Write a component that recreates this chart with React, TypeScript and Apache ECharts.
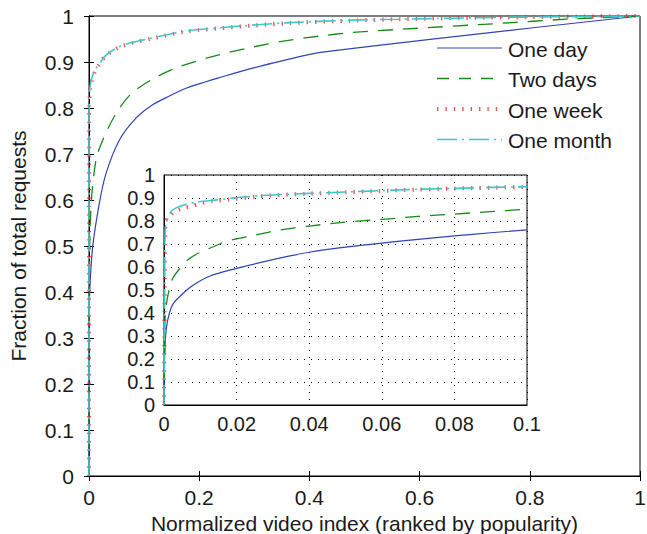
import React, { useEffect, useRef } from "react";
import * as echarts from "echarts";

// Cumulative fraction of requests vs. normalized video index, [x, y] pairs (full range).
const oneDay: [number, number][] = [
  [0, 0], [0.0005, 0.36], [0.002, 0.42], [0.0067, 0.498], [0.0188, 0.593], [0.0309, 0.658],
  [0.055, 0.73], [0.0853, 0.778], [0.1156, 0.807], [0.146, 0.826], [0.176, 0.843], [0.212, 0.857],
  [0.234, 0.865], [0.295, 0.886], [0.356, 0.904], [0.42, 0.921], [1, 1],
];

const twoDays: [number, number][] = [
  [0, 0], [0.0003, 0.4], [0.0036, 0.585], [0.0127, 0.687], [0.0248, 0.73], [0.049, 0.788],
  [0.0775, 0.832], [0.1216, 0.867], [0.167, 0.891], [0.234, 0.915], [0.295, 0.932], [0.356, 0.946],
  [0.416, 0.956], [0.477, 0.964], [0.564, 0.971], [0.746, 0.984], [0.867, 0.993], [1, 1],
];

const oneWeek: [number, number][] = [
  [0, 0], [0.0003, 0.8], [0.002, 0.84], [0.005, 0.858], [0.011, 0.88], [0.02, 0.897],
  [0.03, 0.913], [0.053, 0.931], [0.08, 0.942], [0.114, 0.951], [0.174, 0.966], [0.234, 0.973],
  [0.295, 0.979], [0.356, 0.984], [0.477, 0.99], [0.564, 0.993], [0.75, 0.997], [1, 1],
];

const oneMonth: [number, number][] = [
  [0, 0], [0.0003, 0.817], [0.0018, 0.846], [0.005, 0.865], [0.011, 0.883], [0.02, 0.898],
  [0.03, 0.914], [0.053, 0.932], [0.08, 0.943], [0.114, 0.952], [0.174, 0.967], [0.234, 0.974],
  [0.295, 0.98], [0.356, 0.985], [0.477, 0.991], [0.564, 0.993], [0.75, 0.997], [1, 1],
];

// Finer sampling of the head of each curve, shown in the inset (x from 0 to 0.1).
const oneDayHead: [number, number][] = [
  [0, 0], [0.0001, 0.15], [0.0003, 0.27], [0.0007, 0.34], [0.0015, 0.4], [0.0026, 0.442],
  [0.0053, 0.486], [0.0081, 0.522], [0.0127, 0.561], [0.02, 0.594], [0.0264, 0.619],
  [0.0347, 0.648], [0.04, 0.664], [0.05, 0.686], [0.06, 0.704], [0.07, 0.72], [0.08, 0.735],
  [0.09, 0.749], [0.1, 0.761],
];

const twoDaysHead: [number, number][] = [
  [0, 0], [0.0002, 0.25], [0.0003, 0.384], [0.0007, 0.442], [0.0015, 0.507], [0.0024, 0.551],
  [0.0044, 0.594], [0.0067, 0.633], [0.0097, 0.662], [0.0136, 0.688], [0.0168, 0.71],
  [0.02, 0.722], [0.0232, 0.732], [0.0287, 0.751], [0.032, 0.761], [0.04, 0.778], [0.05, 0.795],
  [0.06, 0.807], [0.07, 0.82], [0.08, 0.83], [0.09, 0.841], [0.1, 0.851],
];

const oneWeekHead: [number, number][] = [
  [0, 0], [0.0002, 0.5], [0.0004, 0.8], [0.0012, 0.81], [0.0025, 0.835], [0.0049, 0.855],
  [0.0072, 0.863], [0.0099, 0.876], [0.0131, 0.886], [0.0182, 0.894], [0.0255, 0.906],
  [0.0306, 0.912], [0.04, 0.919], [0.05, 0.925], [0.06, 0.931], [0.07, 0.937], [0.08, 0.941],
  [0.09, 0.945], [0.1, 0.948],
];

const oneMonthHead: [number, number][] = [
  [0, 0], [0.0002, 0.5], [0.0003, 0.76], [0.0017, 0.836], [0.0035, 0.858], [0.0062, 0.873],
  [0.009, 0.882], [0.0147, 0.892], [0.0209, 0.903], [0.0283, 0.912], [0.04, 0.92], [0.05, 0.926],
  [0.06, 0.932], [0.07, 0.938], [0.08, 0.942], [0.09, 0.946], [0.1, 0.949],
];

const seriesNames = ["One day", "Two days", "One week", "One month"];
const fullData = [oneDay, twoDays, oneWeek, oneMonth];
const headData = [oneDayHead, twoDaysHead, oneWeekHead, oneMonthHead];

const mainXRange = { min: 0, max: 1, interval: 0.2 };
const insetXRange = { min: 0, max: 0.1, interval: 0.02 };
const yRange = { min: 0, max: 1, interval: 0.1 };

const xTitle = "Normalized video index (ranked by popularity)";
const yTitle = "Fraction of total requests";

const lineStyles: any[] = [
  { color: "#2f44b0", width: 1.2, type: "solid" },
  { color: "#17891a", width: 1.3, type: [15, 10] },
  { color: "#ee2a2a", width: 4, type: [1.4, 7], opacity: 0.8 },
  { color: "#3cc8c8", width: 1.6, type: [20, 5, 2, 5] },
];
const legendDash: any[] = ["solid", [12, 10], [1.4, 7], [20, 5, 2, 5]];

const FONT = "'Liberation Sans', Arial, Helvetica, sans-serif";
const INK = "#1a1a1a";

const fmt = (v: number) => String(+v.toFixed(3));

// legend block placement
const LEGEND_X = 437;
const LEGEND_Y = 48;
const LEGEND_ROW = 30.5;
const LEGEND_LINE = 65;

export default function App() {
  const ref = useRef<HTMLDivElement>(null);

  useEffect(() => {
    if (!ref.current) return;
    const chart = echarts.init(ref.current, undefined, { renderer: "svg" });

    const frameLine = { show: true, lineStyle: { color: "#000", width: 1 } };
    const innerTick = { show: true, inside: true, length: 5, lineStyle: { color: "#000", width: 1 } };

    const series: any[] = [];
    fullData.forEach((d, i) => {
      series.push({
        name: seriesNames[i], type: "line", xAxisIndex: 0, yAxisIndex: 0,
        data: d, symbol: "none", lineStyle: lineStyles[i], z: 3, smooth: 0.3,
      });
    });
    headData.forEach((d, i) => {
      series.push({
        name: seriesNames[i], type: "line", xAxisIndex: 2, yAxisIndex: 2,
        data: d, symbol: "none", clip: true, lineStyle: lineStyles[i], z: 6, smooth: 0.3,
      });
    });

    const legendItems = seriesNames.map((n, i) => {
      const y = LEGEND_Y + i * LEGEND_ROW;
      return {
        type: "group",
        children: [
          {
            type: "line",
            shape: { x1: LEGEND_X, y1: y, x2: LEGEND_X + LEGEND_LINE, y2: y },
            style: {
              stroke: lineStyles[i].color,
              lineWidth: lineStyles[i].width,
              lineDash: legendDash[i] === "solid" ? null : legendDash[i],
              opacity: lineStyles[i].opacity ?? 1,
            },
          },
          {
            type: "text",
            x: LEGEND_X + LEGEND_LINE + 6,
            y: y + 1,
            style: {
              text: n, fill: INK, fontSize: 21, fontFamily: FONT,
              verticalAlign: "middle", align: "left",
            },
          },
        ],
      };
    });

    chart.setOption({
      animation: false,
      backgroundColor: "#fff",
      textStyle: { fontFamily: FONT },
      grid: [
        {
          left: 89, top: 16, right: 7, bottom: 58,
          show: true, borderColor: "#000", borderWidth: 1, backgroundColor: "#fff",
          outerBoundsMode: "none",
        },
        {
          left: 164, top: 175, right: 120, bottom: 129,
          show: true, borderColor: "#000", borderWidth: 1, backgroundColor: "#fff",
          outerBoundsMode: "none", z: 5,
        },
      ],
      graphic: legendItems,
      xAxis: [
        {
          gridIndex: 0, type: "value", position: "bottom", ...mainXRange,
          axisLine: frameLine, axisTick: innerTick, splitLine: { show: false },
          axisLabel: { fontSize: 21, color: INK, margin: 11, formatter: fmt },
          name: xTitle, nameLocation: "middle", nameGap: 34,
          nameTextStyle: { fontSize: 21, color: INK, fontFamily: FONT },
        },
        {
          gridIndex: 0, type: "value", position: "top", ...mainXRange,
          axisLine: frameLine, axisTick: innerTick, splitLine: { show: false },
          axisLabel: { show: false },
        },
        {
          gridIndex: 1, type: "value", position: "bottom", ...insetXRange, z: 6,
          axisLine: frameLine, axisTick: { show: false },
          axisLabel: { fontSize: 20, color: INK, margin: 9, formatter: fmt },
          splitLine: { show: true, lineStyle: { color: "#000", width: 1, type: [1, 6] } },
        },
      ],
      yAxis: [
        {
          gridIndex: 0, type: "value", position: "left", ...yRange,
          axisLine: frameLine, axisTick: innerTick, splitLine: { show: false },
          axisLabel: { fontSize: 21, color: INK, margin: 15, formatter: fmt },
          name: yTitle, nameLocation: "middle", nameGap: 60, nameRotate: 90,
          nameTextStyle: { fontSize: 21, color: INK, fontFamily: FONT },
        },
        {
          gridIndex: 0, type: "value", position: "right", ...yRange,
          axisLine: frameLine, axisTick: innerTick, splitLine: { show: false },
          axisLabel: { show: false },
        },
        {
          gridIndex: 1, type: "value", position: "left", ...yRange, z: 6,
          axisLine: frameLine, axisTick: { show: false },
          axisLabel: { fontSize: 20, color: INK, margin: 9, formatter: fmt },
          splitLine: { show: true, lineStyle: { color: "#000", width: 1, type: [1, 6] } },
        },
      ],
      series,
    });

    return () => chart.dispose();
  }, []);

  return (
    <div
      ref={ref}
      style={{ position: "fixed", left: 0, top: 0, width: 647, height: 534 }}
    />
  );
}
